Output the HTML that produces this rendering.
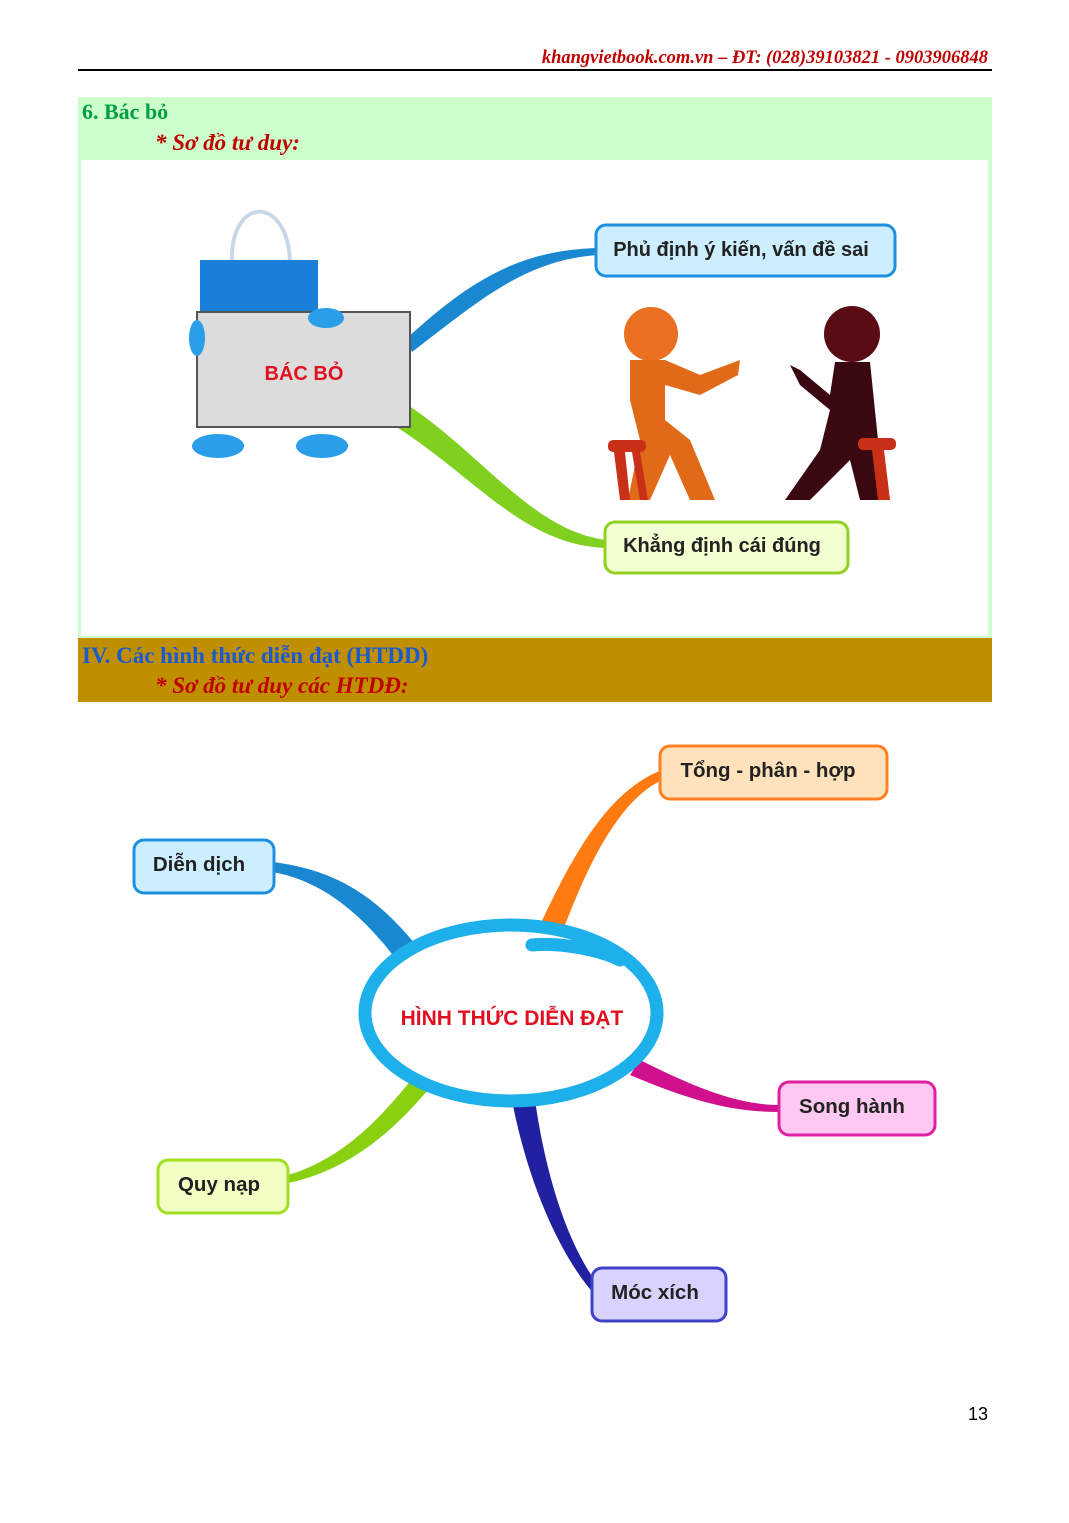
<!DOCTYPE html>
<html><head><meta charset="utf-8"><style>
html,body{margin:0;padding:0;background:#fff;}
svg{display:block;}
.b{font-family:"Liberation Sans","DejaVu Sans",sans-serif;font-weight:bold;}
.s{font-family:"Liberation Serif",serif;font-weight:bold;}
</style></head><body>
<svg width="1069" height="1523" viewBox="0 0 1069 1523" xmlns="http://www.w3.org/2000/svg">
<text x="988" y="63" text-anchor="end" class="s" font-style="italic" font-size="18.5" fill="#c00000">khangvietbook.com.vn – ĐT: (028)39103821 - 0903906848</text>
<rect x="78" y="69" width="914" height="2" fill="#000"/>
<rect x="78" y="97" width="914" height="543" fill="#ccffcc"/>
<text x="82" y="119" class="s" font-size="22" fill="#00a040">6. Bác bỏ</text>
<text x="155" y="150" class="s" font-style="italic" font-size="23" fill="#c00000">* Sơ đồ tư duy:</text>
<rect x="81" y="160" width="907" height="476" fill="#fff"/>
<path d="M405 340 C470 280 520 250 598 248 L598 255 C525 260 480 300 412 352 Z" fill="#1a88d0"/>
<path d="M385 420 C470 470 520 545 606 548 L606 540 C530 530 480 450 400 400 Z" fill="#80d020"/>
<path d="M232 262 C230 195 288 195 290 262" fill="none" stroke="#c8d8e8" stroke-width="4"/>
<rect x="200" y="260" width="118" height="54" fill="#1a7fd8"/>
<rect x="197" y="312" width="213" height="115" fill="#dcdcdc" stroke="#555" stroke-width="2"/>
<ellipse cx="326" cy="318" rx="18" ry="10" fill="#2a9ee8"/>
<ellipse cx="197" cy="338" rx="8" ry="18" fill="#2a9ee8"/>
<ellipse cx="218" cy="446" rx="26" ry="12" fill="#2a9ee8"/>
<ellipse cx="322" cy="446" rx="26" ry="12" fill="#2a9ee8"/>
<text x="304" y="380" text-anchor="middle" class="b" font-size="20" fill="#e01020">BÁC BỎ</text>
<circle cx="651" cy="334" r="27" fill="#e87020"/>
<path d="M630 360 L665 360 L700 375 L740 360 L738 375 L700 395 L665 385 L665 420 L690 440 L715 500 L690 500 L670 455 L650 500 L628 500 L640 440 L630 400 Z" fill="#e06a18"/>
<rect x="608" y="440" width="38" height="12" rx="5" fill="#c83018"/>
<path d="M614 452 L620 500 L630 500 L625 452 Z M632 452 L640 500 L648 500 L640 452Z" fill="#c83018"/>
<circle cx="852" cy="334" r="28" fill="#5a0c14"/>
<path d="M835 362 L870 362 L878 440 L890 500 L860 500 L850 460 L810 500 L785 500 L820 450 L830 410 L800 385 L790 365 L800 370 L830 395 Z" fill="#3a0810"/>
<rect x="858" y="438" width="38" height="12" rx="5" fill="#c83018"/>
<path d="M872 450 L878 500 L890 500 L884 450 Z" fill="#c83018"/>
<rect x="596" y="225" width="299" height="51" rx="10" fill="#cdeeff" stroke="#1e90e0" stroke-width="3"/>
<text x="741" y="256" text-anchor="middle" class="b" font-size="20" fill="#222">Phủ định ý kiến, vấn đề sai</text>
<rect x="605" y="522" width="243" height="51" rx="10" fill="#f2ffd0" stroke="#90d020" stroke-width="3"/>
<text x="722" y="552" text-anchor="middle" class="b" font-size="20" fill="#222">Khẳng định cái đúng</text>
<rect x="78" y="638" width="914" height="64" fill="#bf8f00"/>
<text x="82" y="663" class="s" font-size="23" fill="#1a5ad0">IV. Các hình thức diễn đạt (HTDD)</text>
<text x="155" y="693" class="s" font-style="italic" font-size="23" fill="#c00000">* Sơ đồ tư duy các HTDĐ:</text>
<path d="M272 862 C340 870 380 900 420 950 L395 958 C360 912 320 880 272 872 Z" fill="#1a88d0"/>
<path d="M662 770 C610 790 575 850 540 925 L565 925 C590 860 620 800 662 780 Z" fill="#ff7a10"/>
<path d="M640 1060 C700 1090 740 1105 780 1105 L780 1112 C730 1112 690 1100 630 1075 Z" fill="#d0108c"/>
<path d="M512 1100 C525 1170 555 1250 595 1295 L598 1285 C565 1240 545 1170 535 1100 Z" fill="#2020a0"/>
<path d="M288 1183 C350 1170 395 1130 432 1085 L415 1075 C380 1120 340 1160 288 1175 Z" fill="#88d010"/>
<ellipse cx="511" cy="1013" rx="146" ry="88" fill="#fff" stroke="#1eb0ea" stroke-width="13"/>
<path d="M532 945 C560 942 600 950 620 960" stroke="#1eb0ea" stroke-width="13" fill="none" stroke-linecap="round"/>
<text x="512" y="1025" text-anchor="middle" class="b" font-size="21" fill="#e01020">HÌNH THỨC DIỄN ĐẠT</text>
<rect x="134" y="840" width="140" height="53" rx="10" fill="#cdeeff" stroke="#1e90e0" stroke-width="3"/>
<text x="199" y="871" text-anchor="middle" class="b" font-size="20.5" fill="#222">Diễn dịch</text>
<rect x="660" y="746" width="227" height="53" rx="10" fill="#ffe2bc" stroke="#ff8020" stroke-width="3"/>
<text x="768" y="777" text-anchor="middle" class="b" font-size="20.5" fill="#222">Tổng - phân - hợp</text>
<rect x="779" y="1082" width="156" height="53" rx="10" fill="#ffc8f2" stroke="#e020a0" stroke-width="3"/>
<text x="852" y="1113" text-anchor="middle" class="b" font-size="20.5" fill="#222">Song hành</text>
<rect x="592" y="1268" width="134" height="53" rx="10" fill="#d8d2ff" stroke="#4040c8" stroke-width="3"/>
<text x="655" y="1299" text-anchor="middle" class="b" font-size="20.5" fill="#222">Móc xích</text>
<rect x="158" y="1160" width="130" height="53" rx="10" fill="#f2ffc4" stroke="#a0e020" stroke-width="3"/>
<text x="219" y="1191" text-anchor="middle" class="b" font-size="20.5" fill="#222">Quy nạp</text>
<text x="988" y="1420" text-anchor="end" font-family="Liberation Sans,sans-serif" font-size="18" fill="#000">13</text>
</svg>
</body></html>
